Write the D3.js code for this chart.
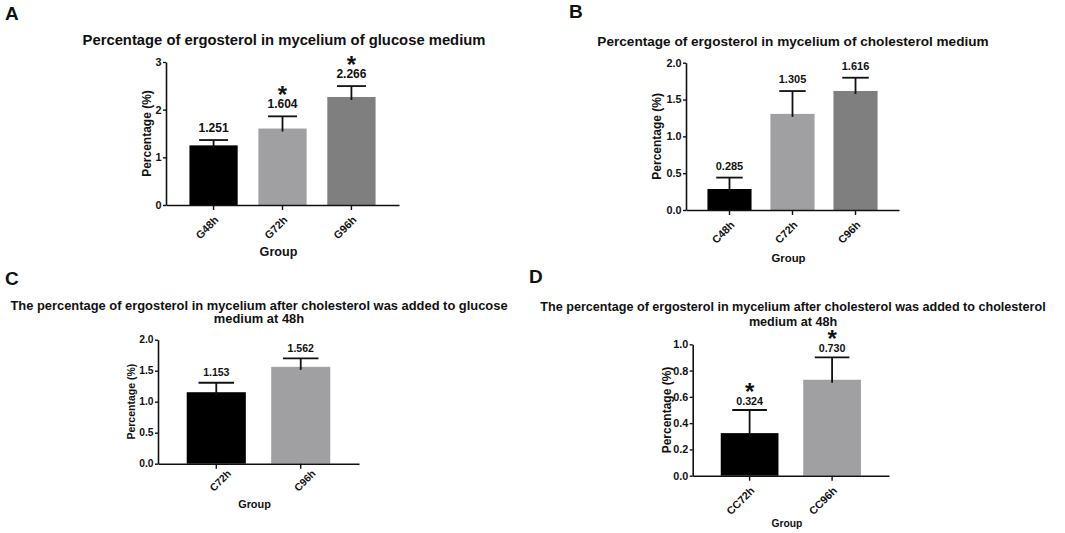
<!DOCTYPE html>
<html>
<head>
    <title>Ergosterol percentage</title>
    <script src="https://d3js.org/d3.v7.min.js"></script>
    <style>
        * { margin: 0; padding: 0; }
        body { background: #fff; }
        svg text { font-family: "Liberation Sans", Arial, sans-serif; font-weight: bold; fill: #111; }
    </style>
</head>
<body>
<div id="chart"></div>
<script>
    // values
    const groupsA = ["G48h", "G72h", "G96h"];
    const meansA = [1.251, 1.604, 2.266];
    const errorsA = [0.112, 0.256, 0.229];
    const starsA = [false, true, true];
    const ticksA = [0, 1, 2, 3];

    const groupsB = ["C48h", "C72h", "C96h"];
    const meansB = [0.285, 1.305, 1.616];
    const errorsB = [0.155, 0.31, 0.18];
    const starsB = [false, false, false];
    const ticksB = [0, 0.5, 1.0, 1.5, 2.0];

    const groupsC = ["C72h", "C96h"];
    const meansC = [1.153, 1.562];
    const errorsC = [0.153, 0.138];
    const starsC = [false, false];
    const ticksC = [0, 0.5, 1.0, 1.5, 2.0];

    const groupsD = ["CC72h", "CC96h"];
    const meansD = [0.324, 0.730];
    const errorsD = [0.176, 0.17];
    const starsD = [true, true];
    const ticksD = [0, 0.2, 0.4, 0.6, 0.8, 1.0];

    const titleA = ["Percentage of ergosterol in mycelium of glucose medium"];
    const titleB = ["Percentage of ergosterol in mycelium of cholesterol medium"];
    const titleC = ["The percentage of ergosterol in mycelium after cholesterol was added to glucose", "medium at 48h"];
    const titleD = ["The percentage of ergosterol in mycelium after cholesterol was added to cholesterol", "medium at 48h"];

    const barColors = ["#000000", "#a0a0a3", "#7f7f7f"];

    const W = 1065, H = 533;
    const svg = d3.select("#chart").append("svg")
        .attr("width", W)
        .attr("height", H);

    function drawPanel(p) {
        const g = svg.append("g");

        g.append("text")
            .attr("x", p.letter[0]).attr("y", p.letter[1])
            .style("font-size", "19px")
            .text(p.name);

        p.title.forEach((t, i) => {
            g.append("text")
                .attr("x", p.titleX)
                .attr("y", p.titleY + i * p.titleGap)
                .attr("text-anchor", "middle")
                .attr("dominant-baseline", "central")
                .style("font-size", p.titleSize + "px")
                .text(t);
        });

        const x = d3.scaleBand()
            .domain(p.groups)
            .range([p.x0, p.x1])
            .paddingInner(0.3)
            .paddingOuter(0.34);

        const y = d3.scaleLinear()
            .domain([0, d3.max(p.ticks)])
            .range([p.yBot, p.yTop]);

        // bars
        g.selectAll(".bar")
            .data(p.groups)
            .join("rect")
            .attr("x", d => x(d))
            .attr("width", x.bandwidth())
            .attr("y", (d, i) => y(p.means[i]))
            .attr("height", (d, i) => p.yBot - y(p.means[i]))
            .attr("fill", (d, i) => barColors[i]);

        // error bars (upper only), value labels and stars
        const cap = x.bandwidth() * 0.6;
        p.groups.forEach((d, i) => {
            const cx = x(d) + x.bandwidth() / 2;
            const top = y(p.means[i] + p.errors[i]);
            g.append("line")
                .attr("x1", cx).attr("x2", cx)
                .attr("y1", y(p.means[i]) + 3).attr("y2", top)
                .attr("stroke", "#111").attr("stroke-width", 1.8);
            g.append("line")
                .attr("x1", cx - cap / 2).attr("x2", cx + cap / 2)
                .attr("y1", top).attr("y2", top)
                .attr("stroke", "#111").attr("stroke-width", 1.8);
            g.append("text")
                .attr("x", cx)
                .attr("y", top - p.labelGap)
                .attr("text-anchor", "middle")
                .attr("dominant-baseline", "central")
                .style("font-size", p.valueSize + "px")
                .text(d3.format(".3f")(p.means[i]));
            if (p.stars[i]) {
                g.append("text")
                    .attr("x", cx)
                    .attr("y", top - p.labelGap - 1)
                    .attr("text-anchor", "middle")
                    .style("font-size", "24px")
                    .text("*");
            }
        });

        // y axis
        const yAxis = g.append("g")
            .attr("transform", `translate(${p.x0},0)`)
            .call(d3.axisLeft(y).tickValues(p.ticks).tickFormat(p.fmt)
                .tickSize(3).tickPadding(1.5).tickSizeOuter(0));
        yAxis.selectAll("text").style("font-size", p.tickSize + "px");

        // x axis
        const xAxis = g.append("g")
            .attr("transform", `translate(0,${p.yBot})`)
            .call(d3.axisBottom(x).tickSize(5).tickSizeOuter(0));
        xAxis.selectAll("text")
            .attr("text-anchor", "end")
            .attr("y", 0).attr("dy", "0.35em")
            .attr("transform", `translate(${3 + p.labelShift[0]},${13 + p.labelShift[1]}) rotate(-45)`)
            .style("font-size", p.tickSize + "px");

        [yAxis, xAxis].forEach(a => {
            a.select(".domain").attr("stroke", "#111").attr("stroke-width", 1.6);
            a.selectAll(".tick line").attr("stroke", "#111").attr("stroke-width", 1.4);
        });

        g.append("text")
            .attr("x", (p.x0 + p.x1) / 2 - 4)
            .attr("y", p.groupY)
            .attr("text-anchor", "middle")
            .attr("dominant-baseline", "central")
            .style("font-size", p.groupSize + "px")
            .text("Group");

        g.append("text")
            .attr("transform", `translate(${p.yTitleX},${(p.yTop + p.yBot) / 2}) rotate(-90)`)
            .attr("text-anchor", "middle")
            .attr("dominant-baseline", "central")
            .style("font-size", p.yTitleSize + "px")
            .text("Percentage (%)");
    }

    drawPanel({
        name: "A", letter: [5, 20], title: titleA, titleX: 284, titleY: 40, titleGap: 0, titleSize: 14.8,
        groups: groupsA, means: meansA, errors: errorsA, stars: starsA, ticks: ticksA, fmt: d3.format("d"),
        x0: 166, x1: 399, yTop: 62, yBot: 205, labelShift: [0, 0],
        labelGap: 12, valueSize: 12, tickSize: 10.8, groupY: 252, groupSize: 12.6, yTitleX: 147, yTitleSize: 12
    });

    drawPanel({
        name: "B", letter: [569, 18], title: titleB, titleX: 793, titleY: 41, titleGap: 0, titleSize: 13.6,
        groups: groupsB, means: meansB, errors: errorsB, stars: starsB, ticks: ticksB, fmt: d3.format(".1f"),
        x0: 686, x1: 899, yTop: 62.7, yBot: 210, labelShift: [0, 0],
        labelGap: 12, valueSize: 11, tickSize: 10.8, groupY: 258, groupSize: 11.4, yTitleX: 657, yTitleSize: 12
    });

    drawPanel({
        name: "C", letter: [5, 285], title: titleC, titleX: 259, titleY: 305.7, titleGap: 12.7, titleSize: 12.9,
        groups: groupsC, means: meansC, errors: errorsC, stars: starsC, ticks: ticksC, fmt: d3.format(".1f"),
        x0: 158, x1: 359, yTop: 339.7, yBot: 463.7, labelShift: [10, -5],
        labelGap: 10.5, valueSize: 10.5, tickSize: 10.3, groupY: 504, groupSize: 10.9, yTitleX: 131, yTitleSize: 10.5
    });

    drawPanel({
        name: "D", letter: [529, 283], title: titleD, titleX: 793, titleY: 307.3, titleGap: 15, titleSize: 12.6,
        groups: groupsD, means: meansD, errors: errorsD, stars: starsD, ticks: ticksD, fmt: d3.format(".1f"),
        x0: 692.7, x1: 889, yTop: 344.3, yBot: 475.7, labelShift: [0, 0],
        labelGap: 9.5, valueSize: 10.7, tickSize: 10.8, groupY: 523, groupSize: 10.3, yTitleX: 667, yTitleSize: 12
    });
</script>
</body>
</html>
